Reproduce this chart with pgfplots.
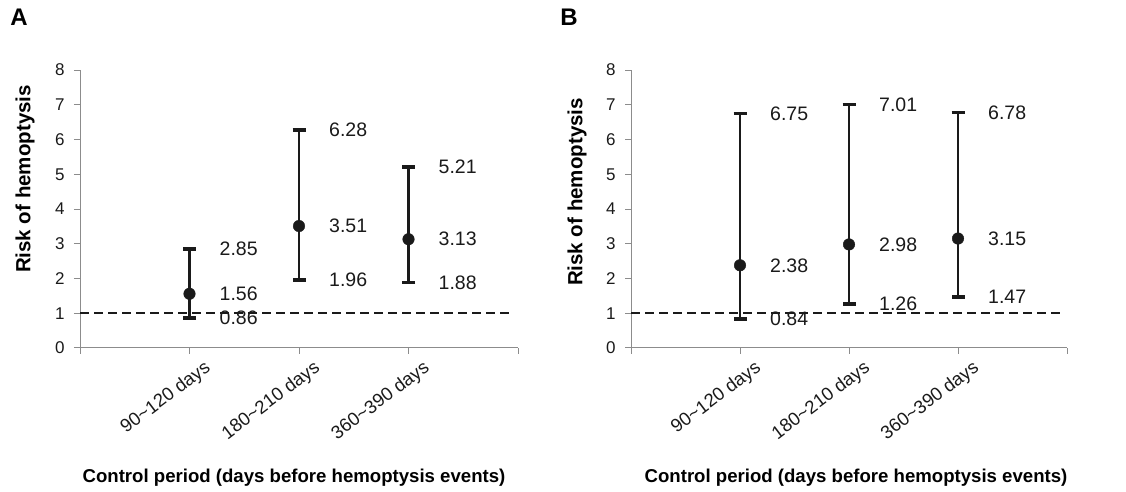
\documentclass[border=0pt]{standalone}
\usepackage{fontspec}
\setmainfont{Liberation Sans}
\usepackage{pgfplots}
\usepackage{pgfplotstable}
\pgfplotsset{compat=1.18}
\pgfkeys{/pgf/number format/assume math mode=true}

\definecolor{axisgray}{HTML}{8C8C8C}
\definecolor{ink}{HTML}{1A1A1A}

% odds ratio with 95% CI, per control period
\pgfplotstableread{
x est lo hi
1 1.56 0.86 2.85
2 3.51 1.96 6.28
3 3.13 1.88 5.21
}\dataA
\pgfplotstableread{
x est lo hi
1 2.38 0.84 6.75
2 2.98 1.26 7.01
3 3.15 1.47 6.78
}\dataB

\pgfplotsset{
  riskaxis/.style={
    scale only axis, height=278pt,
    xmin=0, xmax=4, ymin=0, ymax=8,
    axis x line=bottom, axis y line=left,
    axis line style={-, draw=axisgray, line width=1pt},
    every tick/.style={draw=axisgray, line width=1pt},
    tick align=outside, major tick length=6pt,
    xtick={0,...,4},
    xticklabels={,90\textasciitilde120 days,180\textasciitilde210 days,360\textasciitilde390 days,},
    ytick={0,...,8},
    yticklabel style={font=\fontsize{17}{18}\selectfont, text=ink, xshift=-6pt},
    xticklabel style={font=\fontsize{18.5}{20}\selectfont, text=ink,
      rotate=37, anchor=east, inner sep=0pt, xshift=8pt, yshift=-21pt},
    clip=false,
  },
  cibar/.style={ink, only marks, mark=*, mark size=5.8pt,
    error bars/.cd, y dir=both, y explicit,
    error bar style={line width=2.8pt, ink},
    error mark options={rotate=90, line width=3.5pt, mark size=6.5pt, ink}},
  vlabel/.style={draw=none, mark=none, only marks, nodes near coords, point meta=y,
    nodes near coords={\pgfmathprintnumber[fixed,fixed zerofill,precision=2]{\pgfplotspointmeta}},
    every node near coord/.style={anchor=west, inner sep=0pt, xshift=30pt,
      font=\fontsize{19.5}{20}\selectfont, text=ink}},
  refline/.style={ink, line width=2pt, dash pattern=on 9pt off 5pt},
}

\begin{document}
\begin{tikzpicture}
\useasboundingbox (0,0) rectangle (1126pt,492pt);

\begin{axis}[riskaxis, width=438pt, at={(80pt,144pt)}, anchor=south west]
\addplot[refline] coordinates {(0,1) (3.96,1)};
\addplot[cibar] table[x=x, y=est,
  y error plus expr=\thisrow{hi}-\thisrow{est},
  y error minus expr=\thisrow{est}-\thisrow{lo}] {\dataA};
\addplot[vlabel] table[x=x, y=hi] {\dataA};
\addplot[vlabel] table[x=x, y=est] {\dataA};
\addplot[vlabel] table[x=x, y=lo] {\dataA};
\end{axis}

\begin{axis}[riskaxis, width=436pt, at={(631pt,144pt)}, anchor=south west]
\addplot[refline] coordinates {(0,1) (3.96,1)};
\addplot[cibar] table[x=x, y=est,
  y error plus expr=\thisrow{hi}-\thisrow{est},
  y error minus expr=\thisrow{est}-\thisrow{lo}] {\dataB};
\addplot[vlabel] table[x=x, y=hi] {\dataB};
\addplot[vlabel] table[x=x, y=est] {\dataB};
\addplot[vlabel] table[x=x, y=lo] {\dataB};
\end{axis}

\node[font=\fontsize{24}{26}\selectfont\bfseries] at (19pt,475pt) {A};
\node[font=\fontsize{24}{26}\selectfont\bfseries] at (569pt,475pt) {B};
\node[font=\fontsize{20.5}{22}\selectfont\bfseries, rotate=90] at (25pt,313pt) {Risk of hemoptysis};
\node[font=\fontsize{20.5}{22}\selectfont\bfseries, rotate=90] at (577pt,300pt) {Risk of hemoptysis};
\node[font=\fontsize{18.6}{20}\selectfont\bfseries] at (294pt,14pt) {Control period (days before hemoptysis events)};
\node[font=\fontsize{18.6}{20}\selectfont\bfseries] at (856pt,14pt) {Control period (days before hemoptysis events)};
\end{tikzpicture}
\end{document}
